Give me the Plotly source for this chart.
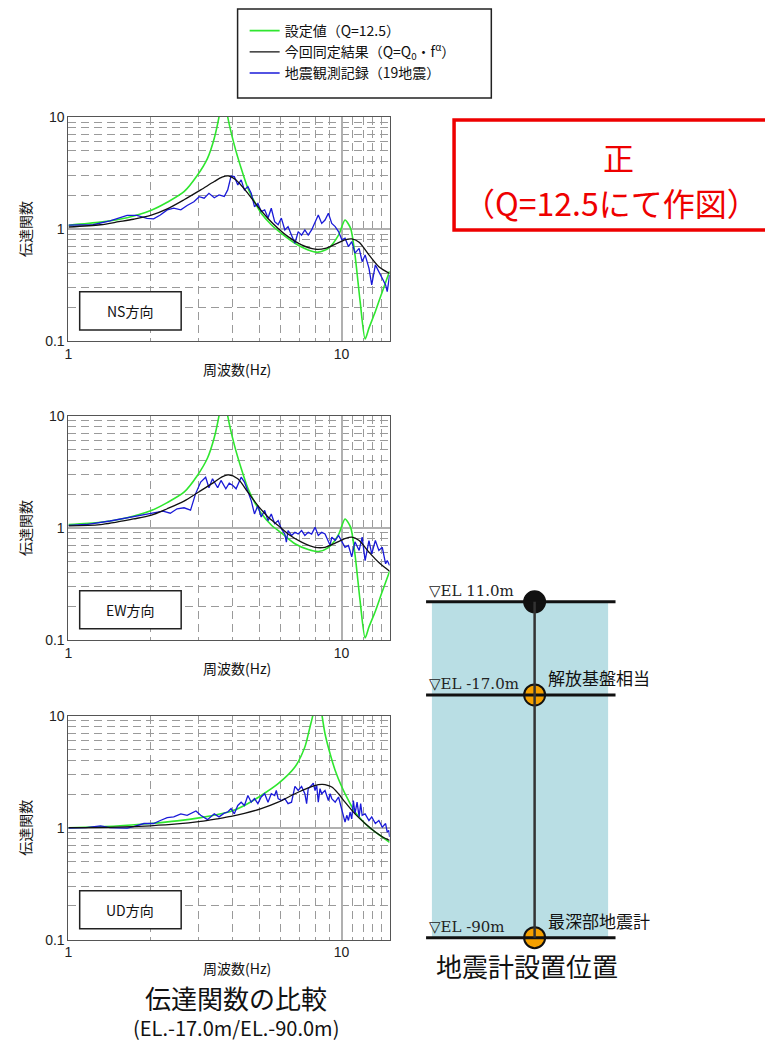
import math
import plotly.graph_objects as go

# ---------------- data ----------------
# NS direction
NS_GREEN_F = [1.00, 1.31, 1.64, 2.00, 2.30, 2.65, 2.97, 3.23, 3.42, 3.57, 3.70, 3.83, 4.05, 4.29, 4.54, 4.80, 5.08, 5.53, 6.02, 6.75, 7.55, 8.22, 8.95, 9.75, 10.3, 10.8, 11.2, 11.7, 12.2, 12.6, 13.3, 14.1, 15.0]
NS_GREEN_V = [1.08, 1.15, 1.26, 1.46, 1.73, 2.15, 3.03, 4.27, 6.46, 10.4, 18.0, 10.0, 5.6, 3.48, 2.31, 1.75, 1.38, 1.09, 0.914, 0.745, 0.649, 0.62, 0.67, 0.88, 1.20, 1.01, 0.586, 0.224, 0.104, 0.13, 0.183, 0.275, 0.42]
NS_BLACK_F = [1.00, 1.31, 1.53, 1.73, 2.00, 2.30, 2.65, 3.05, 3.42, 3.65, 3.85, 4.10, 4.54, 4.94, 5.38, 5.86, 6.37, 7.14, 8.00, 8.71, 9.48, 10.3, 10.9, 11.6, 12.6, 13.7, 15.0]
NS_BLACK_V = [1.04, 1.09, 1.16, 1.22, 1.32, 1.51, 1.82, 2.23, 2.65, 2.90, 2.98, 2.75, 2.08, 1.58, 1.24, 1.01, 0.853, 0.72, 0.66, 0.67, 0.73, 0.80, 0.815, 0.76, 0.586, 0.46, 0.40]
NS_BLUE_F = [1.00, 1.10, 1.23, 1.42, 1.64, 1.78, 1.94, 2.05, 2.17, 2.30, 2.43, 2.58, 2.72, 2.88, 3.01, 3.14, 3.27, 3.42, 3.56, 3.72,
             3.83, 3.94, 4.05, 4.17, 4.29, 4.41, 4.54, 4.67, 4.80, 4.94, 5.08, 5.23, 5.38, 5.53, 5.69, 5.86, 6.02, 6.20, 6.37, 6.56,
             6.75, 6.94, 7.14, 7.34, 7.55, 7.77, 8.00, 8.22, 8.46, 8.70, 8.95, 9.21, 9.48, 9.75, 10.03, 10.3, 10.6, 10.9, 11.2, 11.6,
             11.9, 12.2, 12.6, 12.9, 13.3, 13.7, 14.1, 14.5, 14.7, 15.0]
NS_BLUE_V = [1.08, 1.09, 1.09, 1.18, 1.32, 1.32, 1.24, 1.23, 1.33, 1.48, 1.53, 1.48, 1.62, 1.75, 1.94, 1.88, 2.08, 1.90, 2.01, 1.95,
             2.23, 2.97, 2.93, 2.47, 2.74, 2.23, 2.39, 2.08, 1.58, 1.69, 1.43, 1.48, 1.25, 1.53, 1.16, 1.09, 1.25, 0.98, 1.05, 0.88,
             0.745, 0.946, 0.88, 0.98, 0.88, 0.98, 1.16, 1.33, 1.12, 1.20, 1.38, 1.12, 1.05, 0.946, 0.80, 0.826, 0.695, 0.77, 0.607, 0.67,
             0.51, 0.586, 0.446, 0.316, 0.477, 0.416, 0.363, 0.316, 0.275, 0.388]

# EW direction
EW_GREEN_F = [1.00, 1.31, 1.64, 2.00, 2.30, 2.65, 2.97, 3.23, 3.42, 3.57, 3.70, 3.83, 4.05, 4.29, 4.54, 4.80, 5.08, 5.53, 6.02, 6.75, 7.55, 8.22, 8.95, 9.75, 10.3, 10.8, 11.2, 11.7, 12.2, 12.6, 13.3, 14.1, 15.0]
EW_GREEN_V = [1.07, 1.12, 1.23, 1.42, 1.68, 2.08, 2.95, 4.20, 6.40, 10.4, 18.0, 10.0, 5.5, 3.40, 2.25, 1.70, 1.35, 1.06, 0.90, 0.72, 0.64, 0.615, 0.665, 0.87, 1.20, 1.01, 0.58, 0.22, 0.104, 0.13, 0.18, 0.27, 0.41]
EW_BLACK_F = [1.00, 1.31, 1.73, 2.00, 2.30, 2.65, 3.00, 3.42, 3.65, 3.85, 4.17, 4.54, 4.94, 5.38, 5.86, 6.37, 7.14, 8.00, 8.70, 9.48, 10.3, 10.9, 11.6, 12.6, 13.7, 15.0]
EW_BLACK_V = [1.04, 1.07, 1.20, 1.29, 1.48, 1.73, 2.09, 2.56, 2.85, 2.97, 2.74, 2.08, 1.58, 1.25, 1.05, 0.88, 0.745, 0.67, 0.67, 0.73, 0.80, 0.826, 0.77, 0.607, 0.49, 0.41]
EW_BLUE_F = [1.00, 1.16, 1.42, 1.73, 2.00, 2.22, 2.36, 2.50, 2.65, 2.80, 2.92, 3.05, 3.18, 3.27, 3.37, 3.52, 3.62, 3.77, 3.88, 4.00,
             4.11, 4.29, 4.41, 4.54, 4.67, 4.80, 4.94, 5.08, 5.23, 5.38, 5.53, 5.69, 5.86, 6.02, 6.20, 6.28, 6.37, 6.56, 6.75, 6.94,
             7.14, 7.34, 7.55, 7.77, 8.00, 8.22, 8.46, 8.70, 8.95, 9.08, 9.21, 9.48, 9.75, 10.03, 10.3, 10.6, 10.9, 11.2, 11.6, 11.9,
             12.2, 12.6, 12.9, 13.3, 13.7, 14.1, 14.5, 14.7, 15.0]
EW_BLUE_V = [1.05, 1.07, 1.15, 1.25, 1.33, 1.41, 1.35, 1.48, 1.51, 1.44, 2.01, 2.56, 2.83, 2.28, 2.74, 2.28, 2.65, 2.23, 2.50, 2.39,
             2.23, 2.83, 2.56, 2.08, 1.75, 1.33, 1.58, 1.25, 1.43, 1.16, 1.33, 1.09, 1.16, 0.98, 0.88, 0.745, 0.946, 0.855, 0.914, 0.88,
             0.946, 0.855, 0.914, 0.88, 1.01, 0.855, 0.914, 0.88, 0.745, 0.70, 0.826, 0.77, 0.855, 0.75, 0.67, 0.695, 0.55, 0.75, 0.628, 0.826,
             0.51, 0.77, 0.586, 0.77, 0.628, 0.67, 0.477, 0.51, 0.461]

# UD direction
UD_GREEN_F = [1.00, 1.50, 2.00, 2.50, 3.05, 3.62, 3.94, 4.41, 5.08, 5.86, 6.75, 7.34, 7.66, 7.88, 8.15, 8.46, 8.70, 9.08, 9.48, 10.03, 10.6, 11.2, 11.9, 12.6, 13.3, 14.1, 15.0]
UD_GREEN_V = [1.00, 1.035, 1.09, 1.15, 1.23, 1.33, 1.40, 1.58, 1.94, 2.47, 3.48, 5.25, 7.9, 10.5, 20.0, 10.5, 6.9, 4.58, 3.25, 2.31, 1.75, 1.38, 1.16, 1.01, 0.914, 0.826, 0.74]
UD_BLACK_F = [1.00, 1.50, 2.00, 2.50, 3.05, 3.50, 3.94, 4.41, 5.08, 5.86, 6.75, 7.55, 8.22, 8.50, 8.70, 9.21, 9.75, 10.3, 11.2, 12.2, 13.3, 14.1, 15.0]
UD_BLACK_V = [1.00, 1.01, 1.04, 1.08, 1.14, 1.20, 1.26, 1.34, 1.48, 1.69, 2.01, 2.27, 2.42, 2.44, 2.42, 2.31, 2.01, 1.69, 1.33, 1.09, 0.914, 0.83, 0.77]
UD_BLUE_F = [1.00, 1.16, 1.31, 1.42, 1.64, 1.73, 1.89, 2.05, 2.17, 2.30, 2.43, 2.58, 2.72, 2.93, 3.05, 3.23, 3.42, 3.56, 3.72, 3.83,
             3.94, 4.05, 4.17, 4.29, 4.41, 4.54, 4.67, 4.80, 4.94, 5.08, 5.23, 5.38, 5.53, 5.69, 5.77, 5.86, 6.02, 6.20, 6.37, 6.56,
             6.75, 6.94, 7.14, 7.34, 7.45, 7.55, 7.77, 7.88, 8.00, 8.11, 8.22, 8.34, 8.46, 8.70, 8.95, 9.08, 9.21, 9.48, 9.75, 10.03,
             10.3, 10.45, 10.6, 10.75, 10.9, 11.05, 11.2, 11.4, 11.6, 11.75, 11.9, 12.2, 12.6, 12.9, 13.3, 13.7, 14.1, 14.5, 14.7, 14.9, 15.0]
UD_BLUE_V = [0.99, 1.00, 1.04, 1.00, 0.99, 1.02, 1.09, 1.09, 1.16, 1.23, 1.25, 1.33, 1.29, 1.41, 1.29, 1.18, 1.33, 1.25, 1.35, 1.38,
             1.48, 1.33, 1.58, 1.69, 1.58, 1.94, 1.69, 1.82, 1.64, 1.88, 2.01, 1.69, 2.01, 1.94, 2.15, 1.82, 1.75, 1.82, 1.64, 1.69,
             2.34, 2.15, 2.34, 2.01, 1.64, 2.23, 2.39, 2.50, 2.15, 2.39, 1.69, 2.23, 2.01, 2.15, 1.75, 2.01, 1.82, 1.69, 1.88, 1.43,
             1.12, 1.29, 1.16, 1.38, 1.20, 1.75, 1.33, 1.69, 1.25, 1.64, 1.29, 1.33, 1.16, 1.25, 1.09, 1.16, 1.01, 1.09, 0.914, 0.946, 0.826]

LEGEND_NAMES = ["設定値（Q=12.5）", "今回同定結果（Q=Q<sub>0</sub>・f<sup>α</sup>）", "地震観測記録（19地震）"]
DIRECTION_LABELS = ["NS方向", "EW方向", "UD方向"]
X_TICKS = [1, 10]
Y_TICKS = [0.1, 1, 10]
MINOR_X = [2, 3, 4, 5, 6, 7, 8, 9, 11, 12, 13, 14]
MINOR_Y = [0.2, 0.3, 0.4, 0.5, 0.6, 0.7, 0.8, 0.9, 2, 3, 4, 5, 6, 7, 8, 9]

ELEVATIONS = [11.0, -17.0, -90.0]
ELEV_LABELS = ["▽EL 11.0m", "▽EL -17.0m", "▽EL -90m"]
SENSOR_NOTES = ["", "解放基盤相当", "最深部地震計"]

# ---------------- layout helpers ----------------
W, H = 765, 1042
# measured mapping of the photographed page: picture = S * page + O
SX, OX = 0.988, 6.0
SY, OY = 0.985, 8.0


def px(x):
    """target picture x pixel -> paper fraction"""
    return ((x - OX) / SX) / W


def py(y):
    """target picture y pixel (from top) -> paper fraction"""
    return 1 - ((y - OY) / SY) / H


JP = "Noto Sans CJK JP"
SANS = "Liberation Sans"
GREEN = "#2fe62f"
BLACK = "#111111"
BLUE = "#1a1ad8"

PANEL_X = (70, 389)
PANEL_Y = [(117, 341), (416, 640), (716, 940)]
series = [
    (NS_GREEN_F, NS_GREEN_V, NS_BLACK_F, NS_BLACK_V, NS_BLUE_F, NS_BLUE_V),
    (EW_GREEN_F, EW_GREEN_V, EW_BLACK_F, EW_BLACK_V, EW_BLUE_F, EW_BLUE_V),
    (UD_GREEN_F, UD_GREEN_V, UD_BLACK_F, UD_BLACK_V, UD_BLUE_F, UD_BLUE_V),
]


def text(t, x, y, size, color="#111", family=JP, xref="paper", yref="paper", **kw):
    d = dict(text=t, x=x, y=y, xref=xref, yref=yref, showarrow=False,
             xanchor="center", yanchor="middle",
             font=dict(family=family, size=size, color=color))
    d.update(kw)
    return d


fig = go.Figure()
layout = dict(
    width=W, height=H, margin=dict(l=0, r=0, t=0, b=0, pad=0), autosize=False,
    paper_bgcolor="white", plot_bgcolor="white",
    showlegend=True,
    legend=dict(x=px(245), y=py(15), xanchor="left", yanchor="top",
                bgcolor="rgba(0,0,0,0)", borderwidth=0,
                font=dict(family=JP, size=14, color="#111"),
                itemwidth=30, tracegroupgap=0),
)
shapes = []
annotations = []

for i, (gf, gv, kf, kv, bf, bv) in enumerate(series):
    n = "" if i == 0 else str(i + 1)
    xa, ya = "x" + n, "y" + n
    show = i == 0
    fig.add_trace(go.Scatter(x=gf, y=gv, mode="lines", name=LEGEND_NAMES[0], legendrank=1,
                             line=dict(color=GREEN, width=1.6, shape="spline", smoothing=0.7),
                             showlegend=show, xaxis=xa, yaxis=ya, hoverinfo="skip"))
    fig.add_trace(go.Scatter(x=bf, y=bv, mode="lines", name=LEGEND_NAMES[2], legendrank=3,
                             line=dict(color=BLUE, width=1.3),
                             showlegend=show, xaxis=xa, yaxis=ya, hoverinfo="skip"))
    fig.add_trace(go.Scatter(x=kf, y=kv, mode="lines", name=LEGEND_NAMES[1], legendrank=2,
                             line=dict(color=BLACK, width=1.3, shape="spline", smoothing=0.8),
                             showlegend=show, xaxis=xa, yaxis=ya, hoverinfo="skip"))

    y0, y1 = PANEL_Y[i]
    common = dict(type="log", showline=True, linecolor="#555", linewidth=1, mirror=True,
                  ticks="", zeroline=False, showgrid=True, gridcolor="#b0b0b0", gridwidth=1.5,
                  tickfont=dict(family=SANS, size=14, color="#222"))
    layout["xaxis" + n] = dict(common, domain=[px(PANEL_X[0]), px(PANEL_X[1])], anchor=ya,
                               range=[0, math.log10(15)], tickvals=X_TICKS,
                               ticktext=[str(v) for v in X_TICKS],
                               minor=dict(tickvals=MINOR_X, showgrid=True, gridcolor="#9a9a9a",
                                          griddash="8px,5px", gridwidth=1, ticks=""))
    layout["yaxis" + n] = dict(common, domain=[py(y1), py(y0)], anchor=xa,
                               range=[-1, 1], tickvals=Y_TICKS,
                               ticktext=["0.1", "1", "10"],
                               minor=dict(tickvals=MINOR_Y, showgrid=True, gridcolor="#9a9a9a",
                                          griddash="8px,5px", gridwidth=1, ticks=""))
    shapes.append(dict(type="rect", xref=xa + " domain", yref=ya + " domain",
                       x0=0.035, x1=0.351, y0=0.049, y1=0.219,
                       line=dict(color="#222", width=1.5), fillcolor="white", layer="above"))
    annotations.append(text(DIRECTION_LABELS[i], 0.193, 0.134, 14,
                            xref=xa + " domain", yref=ya + " domain"))
    annotations.append(text("周波数(Hz)", px(237), py(y1 + 28), 14))
    annotations.append(text("伝達関数", px(27), py((y0 + y1) / 2), 14, textangle=-90))

# legend frame
shapes.append(dict(type="rect", xref="paper", yref="paper", x0=px(238), x1=px(490), y0=py(98), y1=py(9),
                   line=dict(color="#222", width=1.5), fillcolor="rgba(0,0,0,0)"))

# red correction box
shapes.append(dict(type="rect", xref="paper", yref="paper", x0=px(453), x1=px(800), y0=py(230), y1=py(120),
                   line=dict(color="#ee0000", width=3.5), fillcolor="rgba(0,0,0,0)"))
annotations.append(text("正", px(616), py(157), 31, color="#ee0000"))
annotations.append(text("（Q=12.5にて作図）", px(609), py(202), 32, color="#ee0000"))

# ---------------- seismometer diagram ----------------
layout["xaxis4"] = dict(domain=[px(400), px(680)], range=[0, 1], visible=False, anchor="y4")
layout["yaxis4"] = dict(domain=[py(971.25), py(572.1)], range=[-100, 20], visible=False, anchor="x4")
BORE_X = 0.475
shapes.append(dict(type="rect", xref="x4", yref="y4", x0=0.1107, x1=0.7357, y0=ELEVATIONS[-1], y1=ELEVATIONS[0],
                   fillcolor="#b9dee4", line=dict(width=0), layer="below"))
for el in ELEVATIONS:
    shapes.append(dict(type="line", xref="x4", yref="y4", x0=0.09, x1=0.762, y0=el, y1=el,
                       line=dict(color="#111", width=3)))
shapes.append(dict(type="line", xref="x4", yref="y4", x0=BORE_X, x1=BORE_X, y0=ELEVATIONS[-1], y1=ELEVATIONS[0],
                   line=dict(color="#333", width=2.5)))
fig.add_trace(go.Scatter(x=[BORE_X] * len(ELEVATIONS), y=ELEVATIONS, mode="markers", xaxis="x4", yaxis="y4",
                         showlegend=False, hoverinfo="skip",
                         marker=dict(size=21, color=["#111111", "#f5a000", "#f5a000"],
                                     line=dict(color="#111", width=2))))
for el, lab, note in zip(ELEVATIONS, ELEV_LABELS, SENSOR_NOTES):
    annotations.append(text(lab, 0.093, el, 15, color="#222", family="DejaVu Serif",
                            xref="x4", yref="y4", xanchor="left", yanchor="bottom"))
    if note:
        annotations.append(text(note, 0.515, el, 17, xref="x4", yref="y4",
                                xanchor="left", yanchor="bottom", yshift=3))
annotations.append(text("地震計設置位置", px(525), py(966), 26))

# bottom titles
annotations.append(text("伝達関数の比較", px(236), py(998), 26))
annotations.append(text("(EL.-17.0m/EL.-90.0m)", px(236), py(1028), 20))

layout["shapes"] = shapes
layout["annotations"] = annotations
fig.update_layout(**layout)
fig.write_html("out.html", config={"displayModeBar": False},
               post_script="document.body.style.margin='0';document.body.style.padding='0';"
                           "document.body.style.overflow='hidden';")
